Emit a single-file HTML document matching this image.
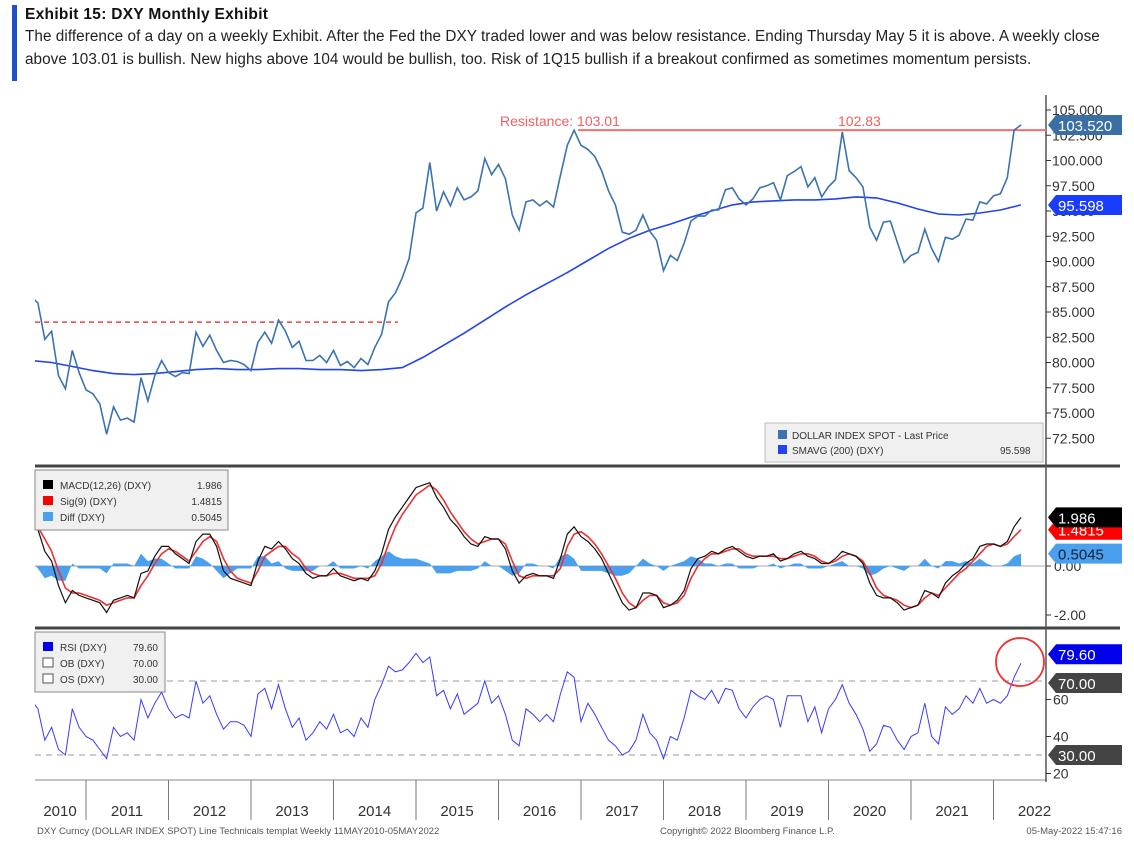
<!DOCTYPE html>
<html><head><meta charset="utf-8">
<style>
body{margin:0;width:1134px;height:852px;background:#fff;overflow:hidden;font-family:"Liberation Sans",sans-serif}
#hdr{position:absolute;left:12px;top:5px;width:1110px;height:76px;border-left:5px solid #1f4fc8;padding-left:8px}
#hdr .t{font-weight:bold;font-size:15.5px;color:#111;line-height:20px;letter-spacing:0.3px}
#hdr .d{font-size:15.3px;color:#222;line-height:23px;white-space:nowrap;letter-spacing:0.05px}
svg{position:absolute;left:0;top:0}
</style></head><body>
<div id="hdr">
<div class="t">Exhibit 15: DXY Monthly Exhibit</div>
<div class="d">The difference of a day on a weekly Exhibit. After the Fed the DXY traded lower and was below resistance. Ending Thursday May 5 it is above. A weekly close<br>above 103.01 is bullish. New highs above 104 would be bullish, too. Risk of 1Q15 bullish if a breakout confirmed as sometimes momentum persists.</div>
</div>
<svg id="c" width="1134" height="852"></svg>
<script>
const years=['2010','2011','2012','2013','2014','2015','2016','2017','2018','2019','2020','2021','2022'];
const priceTicks=[105,102.5,100,97.5,95,92.5,90,87.5,85,82.5,80,77.5,75,72.5];
const price=[86.5,85.9,82.3,83.1,78.7,77.4,81.2,79.0,
77.3,76.9,75.9,72.9,75.6,74.3,74.5,74.1,78.5,76.2,78.7,80.2,
79.0,78.6,79.0,78.9,83.0,81.6,82.7,81.2,80.0,80.2,80.1,79.8,
79.2,82.0,83.0,81.9,84.2,83.1,81.5,82.1,80.2,80.2,80.7,80.0,
81.2,79.7,80.1,79.5,80.4,79.8,81.5,82.8,86.0,86.9,88.4,90.3,
94.8,95.3,99.8,95.0,96.9,95.5,97.3,96.1,96.4,97.0,100.2,98.6,
99.6,98.2,94.6,93.1,95.9,96.1,95.5,96.0,95.4,98.5,101.5,103.0,
101.5,101.1,100.4,99.0,97.0,95.6,92.9,92.7,93.1,94.6,93.0,92.1,
89.1,90.6,90.1,91.8,94.0,94.5,94.5,95.1,95.1,97.1,97.3,96.2,
95.6,96.2,97.3,97.5,97.8,96.1,98.5,98.9,99.4,97.4,98.3,96.4,
97.4,98.1,102.83,99.0,98.3,97.4,93.4,92.1,93.9,94.0,91.9,89.9,
90.6,90.9,93.2,91.3,90.0,92.4,92.2,92.6,94.2,94.1,95.9,95.7,
96.5,96.7,98.3,103.0,103.52];
const sma=[80.2,80.0,79.6,79.2,78.9,78.8,78.9,79.1,79.3,79.4,79.3,79.3,79.4,79.4,79.3,79.3,79.2,
79.3,79.5,80.5,81.7,82.9,84.2,85.5,86.7,87.8,88.9,90.1,91.3,92.3,93.1,93.7,94.4,95.0,95.6,95.9,96.0,96.1,96.1,96.2,96.4,96.3,95.8,95.2,94.7,94.6,94.8,95.1,95.6];
const resistance=103.01, priorHigh=102.83, oldLevel=84.0;
const macdTicks=[0,-2];
const macd=[1.8,1.5,0.6,0.2,-0.8,-1.5,-1.0,-1.2,
-1.3,-1.4,-1.5,-1.9,-1.4,-1.3,-1.2,-1.3,-0.3,-0.2,0.4,0.8,
0.8,0.5,0.3,0.1,1.0,1.3,1.3,0.8,-0.2,-0.5,-0.6,-0.7,
-0.8,0.2,0.8,0.7,1.0,0.7,0.3,0.1,-0.3,-0.5,-0.4,-0.4,
-0.1,-0.4,-0.5,-0.6,-0.5,-0.6,-0.2,0.5,1.5,2.0,2.4,2.8,
3.2,3.3,3.4,2.8,2.4,1.9,1.6,1.2,0.9,0.8,1.2,1.1,
1.1,0.7,-0.2,-0.7,-0.4,-0.3,-0.4,-0.4,-0.5,0.3,1.3,1.6,
1.2,1.0,0.7,0.3,-0.3,-0.9,-1.5,-1.8,-1.7,-1.1,-1.1,-1.2,
-1.7,-1.6,-1.4,-1.0,-0.1,0.3,0.4,0.6,0.5,0.7,0.8,0.6,
0.4,0.3,0.4,0.4,0.5,0.2,0.3,0.5,0.6,0.4,0.3,0.1,
0.1,0.3,0.6,0.5,0.4,0.1,-0.7,-1.2,-1.3,-1.3,-1.5,-1.8,
-1.7,-1.6,-1.0,-1.1,-1.3,-0.7,-0.4,-0.2,0.1,0.3,0.8,0.9,
0.9,0.8,1.0,1.6,1.986];
const signal=[1.6,1.6,1.1,0.6,-0.2,-0.9,-1.1,-1.1,
-1.2,-1.3,-1.4,-1.6,-1.5,-1.4,-1.3,-1.3,-0.8,-0.4,0.1,0.5,
0.7,0.6,0.4,0.2,0.6,1.0,1.2,1.0,0.3,-0.2,-0.5,-0.6,
-0.7,-0.2,0.4,0.6,0.8,0.8,0.5,0.3,-0.1,-0.3,-0.4,-0.4,
-0.3,-0.3,-0.4,-0.5,-0.5,-0.5,-0.4,0.1,0.9,1.6,2.1,2.5,
2.9,3.1,3.3,3.1,2.7,2.2,1.8,1.4,1.1,0.9,1.0,1.1,
1.1,0.9,0.2,-0.4,-0.5,-0.4,-0.4,-0.4,-0.4,-0.1,0.8,1.3,
1.4,1.2,0.9,0.5,0.0,-0.5,-1.1,-1.5,-1.7,-1.4,-1.2,-1.2,
-1.5,-1.6,-1.5,-1.2,-0.5,0.0,0.3,0.5,0.5,0.6,0.7,0.7,
0.5,0.4,0.4,0.4,0.4,0.3,0.3,0.4,0.5,0.5,0.4,0.2,
0.1,0.2,0.4,0.5,0.4,0.2,-0.3,-0.9,-1.2,-1.3,-1.4,-1.6,
-1.7,-1.6,-1.3,-1.1,-1.2,-0.9,-0.6,-0.3,-0.1,0.2,0.5,0.8,
0.9,0.8,0.9,1.2,1.4815];
const rsiTicks=[60,40,20];
const rsi=[60,55,38,45,33,30,55,45,
40,38,33,28,45,40,42,38,60,50,58,64,
55,50,52,50,70,58,62,52,44,48,48,46,
40,63,66,55,68,55,45,50,38,42,48,44,
52,42,44,40,50,45,60,68,78,75,76,80,
85,80,83,62,65,55,63,52,55,58,70,58,
62,52,38,35,55,52,48,52,48,63,75,72,
48,58,52,45,38,35,30,32,38,52,42,38,
28,40,38,50,65,62,60,65,58,66,65,55,
50,56,60,62,60,45,62,62,62,48,56,42,
55,60,68,58,52,44,32,36,46,45,38,33,
40,42,58,40,36,56,52,55,62,58,66,58,
60,58,62,72,79.6];
const ob=70, os=30;

const NS='http://www.w3.org/2000/svg';
const svg=document.getElementById('c');
function mk(tag,attrs,parent){const e=document.createElementNS(NS,tag);for(const k in attrs)e.setAttribute(k,attrs[k]);(parent||svg).appendChild(e);return e;}
const L=35,R=1046;
const x=i=>86+(i-8)*82.5/12;
const yP=v=>110+(105-v)*10.1;
const yM=v=>566-v*24.5;
const yR=v=>681-(v-70)*1.85;
const defs=mk('defs',{});
[['cp',95,466],['cm',467,628],['cr',629,780]].forEach(([id,a,b])=>{const c=mk('clipPath',{id},defs);mk('rect',{x:L,y:a,width:R-L,height:b-a},c);});
function line(arr,fx,fy,attrs,name,clip){const d=arr.map((v,i)=>(i?'L':'M')+fx(i).toFixed(1)+','+fy(v).toFixed(1)).join('');const p=mk('path',Object.assign({d,fill:'none','clip-path':'url(#'+clip+')'},attrs));return p;}
function txt(s,xx,yy,attrs,name){const t=mk('text',Object.assign({x:xx,y:yy,'font-size':13,fill:'#333'},attrs));t.textContent=s;return t;}

mk('line',{x1:L,x2:1120,y1:466,y2:466,stroke:'#444','stroke-width':3});
mk('line',{x1:L,x2:1120,y1:628,y2:628,stroke:'#444','stroke-width':3});
mk('line',{x1:L,x2:R,y1:780,y2:780,stroke:'#888','stroke-width':1});
mk('line',{x1:R,x2:R,y1:95,y2:782,stroke:'#555','stroke-width':1.5});

priceTicks.forEach(v=>{mk('line',{x1:R,x2:R+5,y1:yP(v),y2:yP(v),stroke:'#333'});txt(v.toFixed(3),R+6,yP(v)+5,{'font-size':14},'price-tick-label');});
mk('line',{x1:578,x2:R,y1:yP(resistance),y2:yP(resistance),stroke:'#f07070','stroke-width':2});
txt('Resistance: 103.01',500,yP(resistance)-4,{fill:'#f06060','font-size':14},'resistance-label');
txt('102.83',838,yP(resistance)-4,{fill:'#f06060','font-size':14},'prior-high-label');
mk('line',{x1:L,x2:398,y1:yP(oldLevel),y2:yP(oldLevel),stroke:'#f04040','stroke-width':1.5,'stroke-dasharray':'5,4'});
line(sma,i=>x(i*3),yP,{stroke:'#2244ee','stroke-width':1.6},'sma-200-line','cp');
line(price,x,yP,{stroke:'#3a73b0','stroke-width':1.6},'dxy-price-line','cp');
const lg=mk('g',{});
mk('rect',{x:765,y:423,width:278,height:39,fill:'#f0f0f0',stroke:'#bbb'},lg);
mk('rect',{x:778,y:430,width:9,height:9,fill:'#3a73b0'},lg);mk('rect',{x:778,y:445,width:9,height:9,fill:'#2244ee'},lg);
txt('DOLLAR INDEX SPOT - Last Price',792,439,{'font-size':10},'legend-price');
txt('SMAVG (200) (DXY)',792,454,{'font-size':10},'legend-sma');
txt('95.598',1000,454,{'font-size':10},'legend-sma-value');
function tag(v,yy,bg,fg,name){const g=mk('g',{});mk('path',{d:`M${R+2},${yy} L${R+10},${yy-10} L${1122},${yy-10} L1122,${yy+10} L${R+10},${yy+10}Z`,fill:bg},g);const t=mk('text',{x:R+12,y:yy+6,'font-size':15,fill:fg},g);t.textContent=v;return g;}
tag('103.520',yP(103.52),'#3a6fa5','#fff','last-price-tag');
tag('95.598',yP(sma[sma.length-1]),'#1a3cff','#fff','sma-tag');

mk('line',{x1:L,x2:R,y1:yM(0),y2:yM(0),stroke:'#aaa'});
macdTicks.forEach(v=>{mk('line',{x1:R,x2:R+5,y1:yM(v),y2:yM(v),stroke:'#333'});txt(v.toFixed(2),R+8,yM(v)+5,{'font-size':14},'macd-tick-label');});
let hd='M'+x(0)+','+yM(0);macd.forEach((v,i)=>{hd+='L'+x(i).toFixed(1)+','+yM(v-signal[i]).toFixed(1);});hd+='L'+x(macd.length-1)+','+yM(0)+'Z';
const hp=mk('path',{d:hd,fill:'#4aa0ee','clip-path':'url(#cm)'});
line(signal,x,yM,{stroke:'#ee3030','stroke-width':1.6},'macd-signal-line','cm');
line(macd,x,yM,{stroke:'#111','stroke-width':1.2},'macd-line','cm');
const ml=mk('g',{});
mk('rect',{x:35,y:470,width:193,height:60,fill:'#f0f0f0',stroke:'#888'},ml);
[['MACD(12,26) (DXY)','1.986','#000'],['Sig(9) (DXY)','1.4815','#f00'],['Diff (DXY)','0.5045','#4aa0ee']].forEach((r,k)=>{mk('rect',{x:43,y:480+k*16,width:10,height:9,fill:r[2]},ml);txt(r[0],60,489+k*16,{'font-size':10},'macd-legend-entry');txt(r[1],222,489+k*16,{'font-size':10,'text-anchor':'end'},'macd-legend-value');});
tag('1.4815',yM(1.4815),'#f00','#fff','macd-signal-tag');
tag('1.986',yM(1.986),'#000','#fff','macd-tag');
tag('0.5045',yM(0.5045),'#4aa0ee','#123','macd-diff-tag');

[ob,os].forEach(v=>mk('line',{x1:L,x2:R,y1:yR(v),y2:yR(v),stroke:'#999','stroke-dasharray':'6,5'}));
rsiTicks.forEach(v=>{mk('line',{x1:R,x2:R+5,y1:yR(v),y2:yR(v),stroke:'#333'});txt(String(v),R+7,yR(v)+5,{'font-size':14},'rsi-tick-label');});
line(rsi,x,yR,{stroke:'#3a3aff','stroke-width':1},'rsi-line','cr');
const rl=mk('g',{});
mk('rect',{x:35,y:632,width:130,height:60,fill:'#f0f0f0',stroke:'#888'},rl);
[['RSI (DXY)','79.60','#0000ee'],['OB (DXY)','70.00','#fff'],['OS (DXY)','30.00','#fff']].forEach((r,k)=>{mk('rect',{x:43,y:642+k*16,width:10,height:9,fill:r[2],stroke:k?'#555':'none'},rl);txt(r[0],60,651+k*16,{'font-size':10},'rsi-legend-entry');txt(r[1],158,651+k*16,{'font-size':10,'text-anchor':'end'},'rsi-legend-value');});
tag('79.60',yR(79.6)-9,'#0000ee','#fff','rsi-tag');
tag('70.00',yR(ob)+2,'#444','#fff','ob-tag');
tag('30.00',yR(os),'#444','#fff','os-tag');
mk('circle',{cx:1020,cy:662,r:24,fill:'none',stroke:'#f03030','stroke-width':1.8});

years.forEach((yr,k)=>{const xs=86+(k-1)*82.5;if(k>0)mk('line',{x1:xs,x2:xs,y1:780,y2:820,stroke:'#777'});const xc=k===0?60:xs+41;txt(yr,xc,816,{'font-size':15,'text-anchor':'middle'},'year-label');});
txt('DXY Curncy (DOLLAR INDEX SPOT) Line Technicals templat  Weekly 11MAY2010-05MAY2022',37,834,{'font-size':9.5,fill:'#555'},'footer-source');
txt('Copyright\u00a9 2022 Bloomberg Finance L.P.',660,834,{'font-size':9.5,fill:'#555'},'footer-copyright');
txt('05-May-2022 15:47:16',1122,834,{'font-size':9.5,fill:'#555','text-anchor':'end'},'footer-timestamp');
</script>
</body></html>
